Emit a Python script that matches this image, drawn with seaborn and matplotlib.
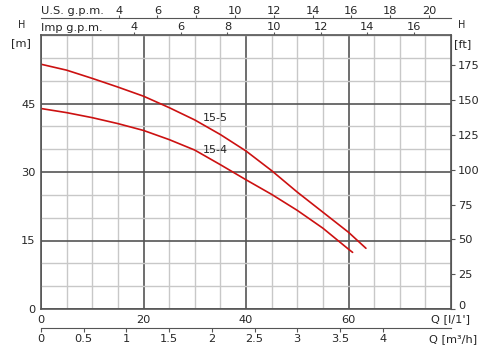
import numpy as np
import pandas as pd
import matplotlib
matplotlib.use("Agg")
import matplotlib.pyplot as plt
import matplotlib.transforms as mtransforms
import seaborn as sns
from matplotlib.ticker import MultipleLocator, FixedLocator

# pump curves, Q in l/min, H in m
q_155 = [0, 5, 10, 15, 20, 25, 30, 35, 40, 45, 50, 55, 60, 63.4]
h_155 = [53.6, 52.3, 50.5, 48.6, 46.6, 44.1, 41.4, 38.2, 34.6, 30.3, 25.6, 21.2, 16.8, 13.3]
q_154 = [0, 5, 10, 15, 20, 25, 30, 35, 40, 45, 50, 55, 60, 60.8]
h_154 = [43.9, 43.0, 41.9, 40.6, 39.1, 37.1, 34.8, 31.6, 28.3, 25.1, 21.6, 17.7, 13.1, 12.4]

q_ticks = [0, 20, 40, 60]
h_ticks = [0, 15, 30, 45]
ft_ticks = [0, 25, 50, 75, 100, 125, 150, 175]
m3h_ticks = [0, 0.5, 1, 1.5, 2, 2.5, 3, 3.5, 4]
m3h_labels = ["0", "0.5", "1", "1.5", "2", "2.5", "3", "3.5", "4"]
us_ticks = [4, 6, 8, 10, 12, 14, 16, 18, 20]
imp_ticks = [4, 6, 8, 10, 12, 14, 16]

df = pd.concat([
    pd.DataFrame({"Q": q_155, "H": h_155, "model": "15-5"}),
    pd.DataFrame({"Q": q_154, "H": h_154, "model": "15-4"}),
])

sns.set_style("white")
plt.rcParams["font.family"] = ["DejaVu Sans"]
plt.rcParams["font.size"] = 8

GRID_DARK = "#555555"
FS = 8.2

fig = plt.figure(figsize=(5, 3.61), dpi=100)
ax = fig.add_axes([41 / 500, 52 / 361, 410 / 500, 274 / 361])

sns.lineplot(data=df, x="Q", y="H", hue="model", palette=["#cc1111", "#cc1111"],
             linewidth=1.2, legend=False, ax=ax, sort=False, estimator=None)

ax.set_xlim(0, 80)
ax.set_ylim(0, 60)
ax.xaxis.set_major_locator(FixedLocator(q_ticks))
ax.yaxis.set_major_locator(FixedLocator(h_ticks))
ax.xaxis.set_minor_locator(MultipleLocator(5))
ax.yaxis.set_minor_locator(MultipleLocator(5))
ax.grid(which="minor", color="#c8c8c8", linewidth=1.0)
ax.grid(which="major", color=GRID_DARK, linewidth=1.2)
ax.set_axisbelow(True)
ax.set_xlabel("")
ax.set_ylabel("")
for s in ax.spines.values():
    s.set_color(GRID_DARK)
    s.set_linewidth(1.2)
ax.tick_params(which="major", length=3, width=0.8, color=GRID_DARK, pad=1, labelsize=FS)
ax.tick_params(which="minor", length=0)

# right axis, feet
sec_r = ax.secondary_yaxis("right", functions=(lambda m: m * 3.2808, lambda f: f / 3.2808))
sec_r.yaxis.set_major_locator(FixedLocator(ft_ticks))
sec_r.tick_params(length=3, width=0.8, color=GRID_DARK, pad=2, labelsize=FS)
sec_r.spines["right"].set_color(GRID_DARK)
fig.canvas.draw()
lab0 = sec_r.yaxis.get_majorticklabels()[0]
lab0.set_transform(lab0.get_transform() + mtransforms.ScaledTranslation(0, 4 / 100, fig.dpi_scale_trans))

# bottom axis, m3/h
sec_b = ax.secondary_xaxis("bottom", functions=(lambda q: q * 0.06, lambda m: m / 0.06))
sec_b.spines["bottom"].set_position(("outward", 14))
sec_b.spines["bottom"].set_color(GRID_DARK)
sec_b.xaxis.set_major_locator(FixedLocator(m3h_ticks))
sec_b.tick_params(length=3, width=0.8, color=GRID_DARK, pad=1, labelsize=FS)
sec_b.set_xticklabels(m3h_labels)

# top axes, gallons per minute
sec_imp = ax.secondary_xaxis("top", functions=(lambda q: q / 4.546, lambda g: g * 4.546))
sec_imp.xaxis.set_major_locator(FixedLocator(imp_ticks))
sec_imp.tick_params(length=2, direction="out", width=0.8, color=GRID_DARK, pad=0, labelsize=FS)
sec_imp.spines["top"].set_color(GRID_DARK)

sec_us = ax.secondary_xaxis("top", functions=(lambda q: q / 3.785, lambda g: g * 3.785))
sec_us.spines["top"].set_position(("outward", 12))
sec_us.spines["top"].set_color(GRID_DARK)
sec_us.xaxis.set_major_locator(FixedLocator(us_ticks))
sec_us.tick_params(length=2, direction="out", width=0.8, color=GRID_DARK, pad=0, labelsize=FS)

# curve labels
ax.text(34, 41.9, "15-5", fontsize=8, ha="center", va="center")
ax.text(34, 34.8, "15-4", fontsize=8, ha="center", va="center")


def ftext(x, y, s, size=FS, **kw):
    fig.text(x / 500, 1 - y / 361, s, fontsize=size, va="center", **kw)


ftext(41, 11, "U.S. g.p.m.", ha="left")
ftext(41, 28, "Imp g.p.m.", ha="left")
ftext(22, 25, "H", ha="center", size=7)
ftext(21, 43, "[m]", ha="center")
ftext(462, 25, "H", ha="center", size=7)
ftext(463, 44, "[ft]", ha="center")
ftext(470, 319, "Q [l/1']", ha="right")
ftext(477, 339, "Q [m³/h]", ha="right")

fig.savefig("out.png", dpi=100)
